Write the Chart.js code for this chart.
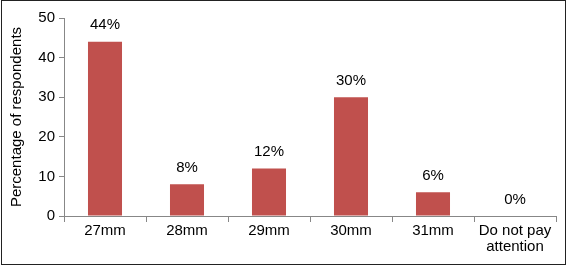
<!DOCTYPE html>
<html>
<head>
<meta charset="utf-8">
<script src="https://cdn.jsdelivr.net/npm/chart.js@4.4.1/dist/chart.umd.min.js"></script>
<style>
  html, body { margin: 0; padding: 0; background: #fff; }
  #wrap { width: 567px; height: 266px; position: relative; }
</style>
</head>
<body>
<div id="wrap"><canvas id="chart" width="567" height="266"></canvas></div>
<script>
  const categories = ['27mm', '28mm', '29mm', '30mm', '31mm', ['Do not pay', 'attention']];
  const percentages = [44, 8, 12, 30, 6, 0];
  const yTicks = [0, 10, 20, 30, 40, 50];

  const BAR_COLOR = '#c0504d';
  const AXIS_COLOR = '#878787';
  const FONT = { family: '"Liberation Sans", Arial, sans-serif', size: 15, lineHeight: 1.05 };

  // value labels above each bar
  const barLabels = {
    id: 'barLabels',
    afterDatasetsDraw(chart) {
      const ctx = chart.ctx;
      const meta = chart.getDatasetMeta(0);
      ctx.save();
      ctx.font = '15px "Liberation Sans", Arial, sans-serif';
      ctx.fillStyle = '#000';
      ctx.textAlign = 'center';
      ctx.textBaseline = 'bottom';
      meta.data.forEach((bar, i) => {
        ctx.fillText(percentages[i] + '%', bar.x, bar.y - 9);
      });
      ctx.restore();
    }
  };

  // outer frame round the picture
  const frame = {
    id: 'frame',
    beforeDraw(chart) {
      const ctx = chart.ctx;
      ctx.save();
      ctx.fillStyle = '#fff';
      ctx.fillRect(0, 0, chart.width, chart.height);
      ctx.restore();
    },
    afterDraw(chart) {
      const ctx = chart.ctx;
      ctx.save();
      ctx.strokeStyle = '#222';
      ctx.lineWidth = 1;
      ctx.strokeRect(1.5, 0.5, 564, 264);
      ctx.restore();
    }
  };

  new Chart(document.getElementById('chart'), {
    type: 'bar',
    data: {
      labels: categories,
      datasets: [{
        data: percentages,
        backgroundColor: BAR_COLOR,
        borderWidth: 0,
        categoryPercentage: 1,
        barPercentage: 0.415,
      }],
    },
    options: {
      responsive: false,
      animation: false,
      layout: { padding: { left: 0, right: 11, top: 18, bottom: 0 } },
      plugins: { legend: { display: false }, tooltip: { enabled: false } },
      scales: {
        x: {
          afterFit(scale) { scale.height = 50; },
          grid: { offset: true, drawOnChartArea: false, tickLength: 6, color: AXIS_COLOR },
          border: { color: AXIS_COLOR },
          ticks: { color: '#000', font: FONT, padding: 1, maxRotation: 0, autoSkip: false },
        },
        y: {
          min: 0,
          max: 50,
          afterFit(scale) { scale.width = 64; },
          afterBuildTicks(scale) { scale.ticks = yTicks.map(v => ({ value: v })); },
          grid: { drawOnChartArea: false, tickLength: 5, color: AXIS_COLOR },
          border: { color: AXIS_COLOR },
          ticks: { color: '#000', font: FONT, padding: 4 },
          title: {
            display: true,
            text: 'Percentage of respondents',
            color: '#000',
            font: FONT,
            padding: { top: 9, bottom: 0 },
          },
        },
      },
    },
    plugins: [frame, barLabels],
  });
</script>
</body>
</html>
